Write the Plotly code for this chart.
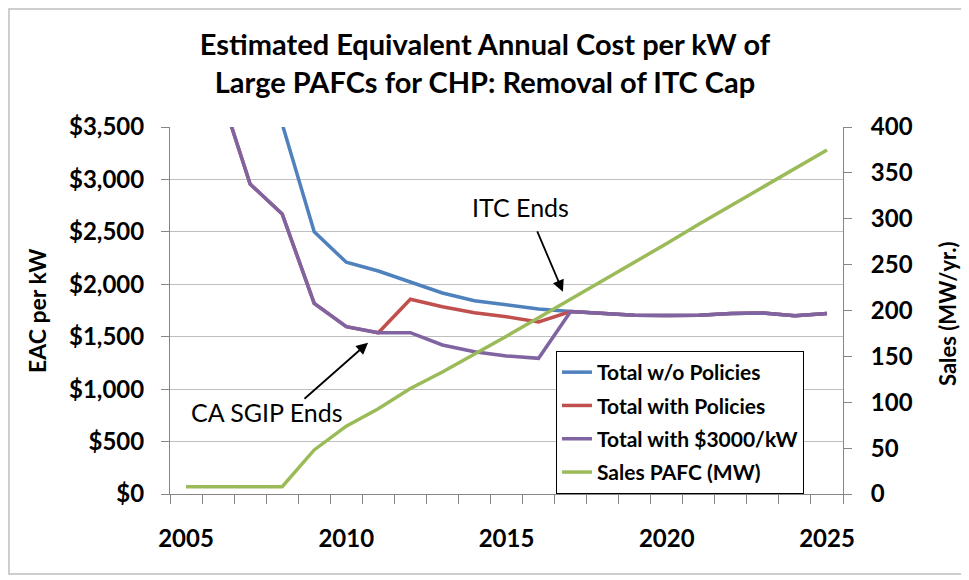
import plotly.graph_objects as go

# data
years = list(range(2005, 2026))

total_no_policies = [6000, 5000, 4200, 3530, 2500, 2210, 2127, 2025, 1917, 1843, 1802, 1764, 1740,
                     1722, 1705, 1703, 1705, 1722, 1725, 1700, 1722]
total_with_policies = [4500, 3900, 2956, 2670, 1818, 1596, 1538, 1857, 1786, 1729, 1691, 1640, 1740,
                       1722, 1705, 1703, 1705, 1722, 1725, 1700, 1722]
total_with_3000 = [4500, 3900, 2956, 2670, 1818, 1596, 1538, 1538, 1421, 1357, 1316, 1294, 1740,
                   1722, 1705, 1703, 1705, 1722, 1725, 1700, 1722]
sales_pafc = [8, 8, 8, 8, 48, 74, 93, 115, 133, 152, 172, 192, 212,
              232, 253, 273, 294, 314, 335, 355, 375]

x_ticks = [2005, 2010, 2015, 2020, 2025]

FONT = "Lato"
BLUE = "#4F81BD"
RED = "#C0504D"
PURPLE = "#8064A2"
GREEN = "#9BBB59"
GRID = "#BFBFBF"
AXIS = "#868686"

# the page body has an 8px margin, so the figure is drawn 8px smaller
W, H = 961, 572

fig = go.Figure()

series = [
    (total_no_policies, "Total w/o Policies", BLUE, "y"),
    (total_with_policies, "Total with Policies", RED, "y"),
    (total_with_3000, "Total with $3000/kW", PURPLE, "y"),
    (sales_pafc, "Sales PAFC (MW)", GREEN, "y2"),
]
for vals, name, color, yax in series:
    fig.add_trace(go.Scatter(x=years, y=vals, mode="lines", name=name, legendgroup=name,
                             line=dict(color=color, width=3.5), yaxis=yax))

fig.update_layout(
    width=W,
    height=H,
    margin=dict(l=162, r=126, t=119, b=86),
    paper_bgcolor="white",
    plot_bgcolor="white",
    font=dict(family=FONT, color="black"),
    title=dict(text="Estimated Equivalent Annual Cost per kW of<br>Large PAFCs for CHP: Removal of ITC Cap",
               x=(485 - 8) / W, xanchor="center", xref="container",
               y=1 - 47 / H, yanchor="top", yref="container",
               font=dict(family=FONT, size=29, weight="bold")),
    xaxis=dict(range=[2004.5, 2025.5], tickvals=x_ticks, ticks="", showgrid=False,
               showline=True, linecolor=AXIS, linewidth=1,
               tickfont=dict(size=24, weight="bold"), ticklabelstandoff=23,
               minor=dict(tick0=2004.5, dtick=1, ticks="outside", ticklen=9, tickcolor=AXIS, showgrid=False),
               zeroline=False),
    yaxis=dict(range=[0, 3500], dtick=500, tickprefix="$", tickformat=",",
               showgrid=True, gridcolor=GRID, gridwidth=1,
               showline=True, linecolor=AXIS, linewidth=1,
               ticks="outside", ticklen=8, tickcolor=AXIS,
               tickfont=dict(size=24, weight="bold"), ticklabelstandoff=12,
               zeroline=False),
    yaxis2=dict(range=[0, 400], dtick=50, overlaying="y", side="right", showgrid=False,
                showline=True, linecolor=AXIS, linewidth=1,
                ticks="outside", ticklen=8, tickcolor=AXIS,
                tickfont=dict(size=24, weight="bold"), ticklabelstandoff=14,
                zeroline=False),
    legend=dict(x=0.5735, y=0, xanchor="left", yanchor="bottom",
                bgcolor="white", bordercolor="black", borderwidth=1,
                font=dict(size=21, weight="bold"), tracegroupgap=3,
                entrywidth=272, entrywidthmode="pixels"),
)

# axis titles
fig.add_annotation(text="EAC per kW", xref="paper", yref="paper", x=(37 - 170) / 673, y=(494 - 311) / 367,
                   xanchor="center", yanchor="middle",
                   textangle=-90, showarrow=False, font=dict(size=23, weight="bold"))
fig.add_annotation(text="Sales (MW/yr.)", xref="paper", yref="paper", x=(947 - 170) / 673, y=(494 - 313) / 367,
                   xanchor="center", yanchor="middle",
                   textangle=-90, showarrow=False, font=dict(size=22, weight="bold"))

# callouts
fig.add_annotation(text="ITC Ends", x=2015.45, y=2737, xref="x", yref="y", showarrow=False,
                   font=dict(size=25))
fig.add_annotation(text="", x=2016.76, y=1929, ax=2015.94, ay=2518, xref="x", yref="y",
                   axref="x", ayref="y", showarrow=True, arrowhead=2, arrowsize=1.3,
                   arrowwidth=1.8, arrowcolor="black")
fig.add_annotation(text="CA SGIP Ends", x=2007.53, y=785, xref="x", yref="y", showarrow=False,
                   font=dict(size=25))
fig.add_annotation(text="", x=2010.68, y=1443, ax=2008.65, ay=896, xref="x", yref="y",
                   axref="x", ayref="y", showarrow=True, arrowhead=2, arrowsize=1.3,
                   arrowwidth=1.8, arrowcolor="black")

# outer chart border
fig.add_shape(type="rect", xref="paper", yref="paper",
              x0=(9 - 170) / 673, x1=(962 - 170) / 673, y0=(494 - 574) / 367, y1=(494 - 9) / 367,
              line=dict(color="#BFBFBF", width=1.5), layer="below")

fig.write_html("out.html")
